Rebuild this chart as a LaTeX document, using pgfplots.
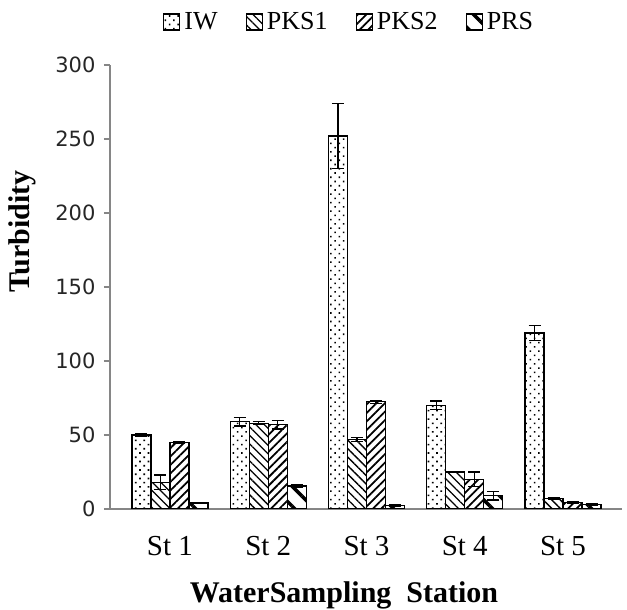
\documentclass[border=0pt]{standalone}
\usepackage{fontspec}
\setmainfont{Liberation Serif}
\newfontfamily\tickfont{DejaVu Sans}
\usepackage{pgfplots}
\pgfplotsset{compat=1.18}
\usetikzlibrary{patterns.meta}
\definecolor{axgray}{RGB}{134,134,134}
\begin{document}
\begin{tikzpicture}
\path[use as bounding box] (0,0) rectangle (627pt,610pt);
\begin{axis}[
  at={(110pt,101pt)}, anchor=south west,
  scale only axis, width=512pt, height=444pt,
  ybar=0pt, bar width=19pt,
  xmin=-0.61, xmax=4.6, ymin=0, ymax=300,
  xtick=data, xticklabels={St 1,St 2,St 3,St 4,St 5},
  ytick={0,50,...,300},
  axis x line=bottom, axis y line=left,
  axis line style={axgray, line width=1.2pt, -},
  x axis line style={-}, y axis line style={-},
  xtick style={draw=none},
  ytick style={axgray, line width=1.2pt},
  tick align=outside, major tick length=6pt,
  yticklabel style={font=\tickfont\fontsize{21}{24}\selectfont, xshift=-5pt, text=black!85},
  /pgf/number format/assume math mode=true,
  xticklabel style={font=\fontsize{29}{32}\selectfont, yshift=-18pt},
  xlabel={\textbf{WaterSampling\ \ Station}},
  ylabel={\textbf{Turbidity}},
  label style={font=\fontsize{30}{32}\selectfont},
  xlabel style={at={(axis description cs:0.457,0)}, anchor=center, yshift=-86pt},
  ylabel style={at={(axis description cs:0,0.625)}, anchor=center, yshift=88pt},
  legend style={at={(axis description cs:0.469,1)}, anchor=center, yshift=43pt,
    draw=none, font=\fontsize{26}{28}\selectfont, legend columns=4,
    /tikz/every odd column/.append style={column sep=0pt},
    /tikz/every even column/.append style={column sep=24pt},
    nodes={inner xsep=4pt},
    legend cell align=left},
  legend image code/.code={\draw[#1, line width=1.3pt] (0pt,-8pt) rectangle (16pt,8pt);},
  error bars/y dir=both, error bars/y explicit,
  error bars/error bar style={black, line width=1.3pt},
  error bars/error mark options={rotate=90, mark size=6pt, line width=1.3pt, black},
]
\addplot[draw=black, line width=1.3pt, pattern={Dots[distance=6pt, radius=1.1pt, angle=45]}]
  coordinates {(0,50) +- (0,1) (1,59) +- (0,3) (2,252) +- (0,22) (3,70) +- (0,3) (4,119) +- (0,5)};
\addplot[draw=black, line width=1.3pt, pattern={Lines[angle=-45, distance=6pt, line width=1.3pt]}]
  coordinates {(0,18) +- (0,5) (1,58) +- (0,1) (2,47) +- (0,1.5) (3,25) +- (0,0.5) (4,7) +- (0,0.5)};
\addplot[draw=black, line width=1.3pt, pattern={Lines[angle=45, distance=6pt, line width=1.8pt]}]
  coordinates {(0,45) +- (0,0.5) (1,57) +- (0,3) (2,72.5) +- (0,1) (3,20) +- (0,5) (4,4.5) +- (0,0.5)};
\addplot[draw=black, line width=1.3pt, pattern={Lines[angle=-45, distance=14pt, line width=3.5pt]}]
  coordinates {(0,4) +- (0,0.5) (1,15.5) +- (0,1) (2,2.5) +- (0,0.5) (3,9) +- (0,3) (4,3) +- (0,0.5)};
\legend{IW, PKS1, PKS2, PRS}
\end{axis}
\end{tikzpicture}
\end{document}
